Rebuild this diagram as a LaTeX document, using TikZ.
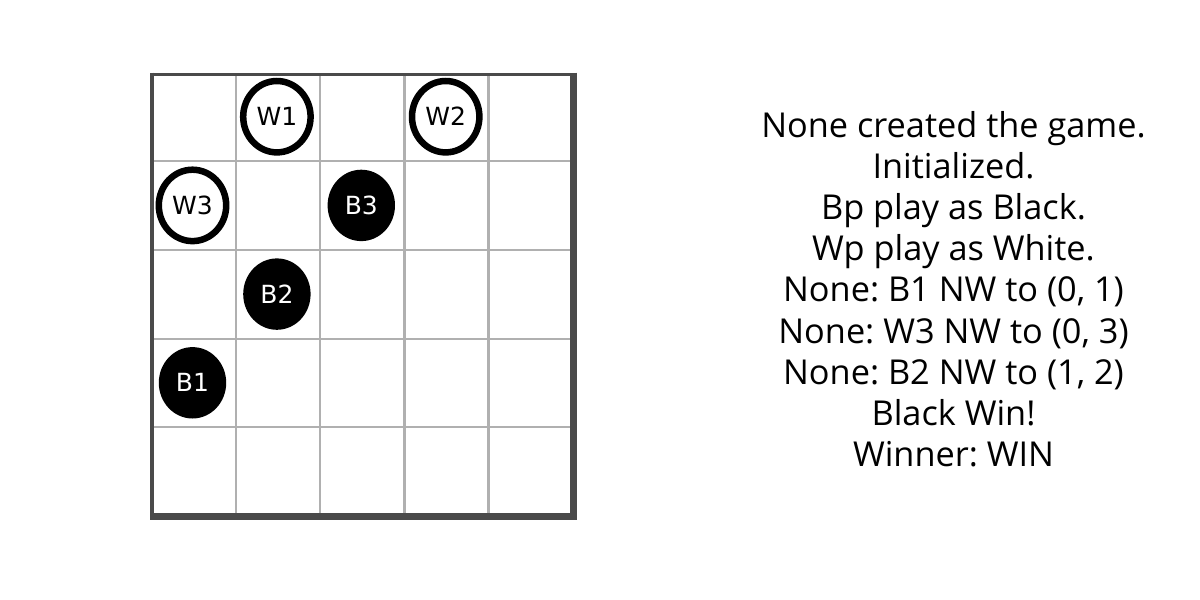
\documentclass[tikz,border=0pt]{standalone}
\usepackage{fontspec}
\setmainfont{Open Sans}
\newfontfamily\piecefont{DejaVu Sans}
\usetikzlibrary{shapes.geometric}
\definecolor{gridgray}{HTML}{B0B0B0}
\definecolor{framegray}{HTML}{4A4A4A}
\begin{document}
\frenchspacing
\begin{tikzpicture}[x=1pt,y=-1pt,
  gridline/.style={draw=gridgray,line width=2.2pt},
  frameline/.style={draw=framegray},
  piece/.style={ellipse,minimum width=67.4pt,minimum height=71.4pt,inner sep=0pt,font=\piecefont\fontsize{25}{28}\selectfont},
  whitepiece/.style={piece,draw=black,line width=6.5pt,fill=white,text=black},
  blackpiece/.style={piece,fill=black,text=white},
  logline/.style={anchor=base,inner sep=0pt,font=\fontsize{34.3}{40}\selectfont}
]
\useasboundingbox[fill=white] (0,0) rectangle (1200,600);
% grid
\foreach \x in {236,320,404.5,488.5} \draw[gridline] (\x,74) -- (\x,516);
\foreach \y in {161,250,339,427} \draw[gridline] (152,\y) -- (573,\y);
% frame
\draw[frameline,line width=3.5pt] (150,74.5) -- (577,74.5);
\draw[frameline,line width=4pt] (152,72.5) -- (152,519);
\draw[frameline,line width=7pt] (573.5,72.5) -- (573.5,520);
\draw[frameline,line width=7pt] (150,516) -- (577,516);
% pieces
\node[whitepiece] (W1) at (276.9,116.7) {W1};
\node[whitepiece] (W2) at (445.7,116.7) {W2};
\node[whitepiece] (W3) at (192.5,205.4) {W3};
\node[blackpiece] (B3) at (361.3,205.4) {B3};
\node[blackpiece] (B2) at (276.9,294.1) {B2};
\node[blackpiece] (B1) at (192.5,382.8) {B1};
% log
\node[logline] (l1) at (953.5,137) {None created the game.};
\node[logline] (l2) at (953.5,178.2) {Initialized.};
\node[logline] (l3) at (953.5,219.4) {Bp play as Black.};
\node[logline] (l4) at (953.5,260.6) {Wp play as White.};
\node[logline] (l5) at (953.5,301.8) {None: B1 NW to (0, 1)};
\node[logline] (l6) at (953.5,343) {None: W3 NW to (0, 3)};
\node[logline] (l7) at (953.5,384.2) {None: B2 NW to (1, 2)};
\node[logline] (l8) at (953.5,425.4) {Black Win!};
\node[logline] (l9) at (953.5,466.6) {Winner: WIN};
\end{tikzpicture}
\end{document}
